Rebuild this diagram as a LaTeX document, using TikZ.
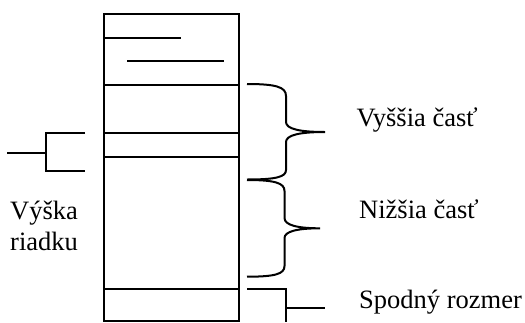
\documentclass[tikz,border=0pt]{standalone}
\usepackage{fontspec}
\setmainfont{Liberation Serif}
\begin{document}
\begin{tikzpicture}[x=1pt,y=-1pt,
  ln/.style={line width=2pt},
  thin/.style={line width=1.6pt},
  lbl/.style={anchor=base west,inner sep=0pt,font=\fontsize{26.5}{30}\selectfont}]
\useasboundingbox (0,0) rectangle (525,322);
% main column
\node[ln,draw,minimum width=135pt,minimum height=307pt,inner sep=0pt,anchor=north west] (col) at (103,12.5) {};
\coordinate (l1a) at (103,85);  \coordinate (l1b) at (238,85);
\coordinate (l2a) at (103,133); \coordinate (l2b) at (238,133);
\coordinate (l3a) at (103,157); \coordinate (l3b) at (238,157);
\coordinate (l4a) at (103,289); \coordinate (l4b) at (238,289);
\draw[thin] (l1a) -- (l1b);
\draw[thin] (l2a) -- (l2b);
\draw[ln] (l3a) -- (l3b);
\draw[thin] (l4a) -- (l4b);
% short text lines
\coordinate (s1a) at (103,37.7); \coordinate (s1b) at (181,37.7);
\coordinate (s2a) at (127,60.5); \coordinate (s2b) at (224,60.5);
\draw[ln] (s1a) -- (s1b);
\draw[ln] (s2a) -- (s2b);
% left bracket
\coordinate (lb1) at (85,133); \coordinate (lb2) at (85,171);
\coordinate (lbm) at (46,152.5); \coordinate (lbs) at (7,152.5);
\draw[ln] (lb1) -| (lbm) |- (lb2);
\draw[ln] (lbs) -- (lbm);
\node[lbl] (vyska) at (10,219.3) {Výška};
\node[lbl] (riadku) at (10,250) {riadku};
% upper brace
\coordinate (ub1) at (247,84); \coordinate (ubt) at (325,132); \coordinate (ub2) at (247,179.5);
\draw[ln] (ub1) .. controls (276,84) and (286,87) .. (286,96) -- (286,122)
  .. controls (286,129) and (300,132) .. (ubt)
  .. controls (300,132) and (286,135) .. (286,142) -- (286,170)
  .. controls (286,177) and (276,179.5) .. (ub2);
% lower brace
\coordinate (lw1) at (247,180); \coordinate (lwt) at (320,228.3); \coordinate (lw2) at (247,276.7);
\draw[ln] (lw1) .. controls (275,180) and (284.5,183) .. (284.5,191) -- (284.5,218)
  .. controls (284.5,225) and (297,228.3) .. (lwt)
  .. controls (297,228.3) and (284.5,231.5) .. (284.5,238) -- (284.5,266)
  .. controls (284.5,274) and (275,276.7) .. (lw2);
\node[lbl] (vyssia) at (356.5,126.7) {Vyššia časť};
\node[lbl] (nizsia) at (359,218) {Nižšia časť};
% bottom bracket
\coordinate (sb1) at (247,289); \coordinate (sbc) at (286,289);
\coordinate (sbe) at (286,322); \coordinate (sbm) at (286,307.5); \coordinate (sbs) at (325,307.5);
\draw[ln] (sb1) -- (sbc) -- (sbe);
\draw[ln] (sbm) -- (sbs);
\node[lbl] (spodny) at (359,308) {Spodný rozmer};
\end{tikzpicture}
\end{document}
